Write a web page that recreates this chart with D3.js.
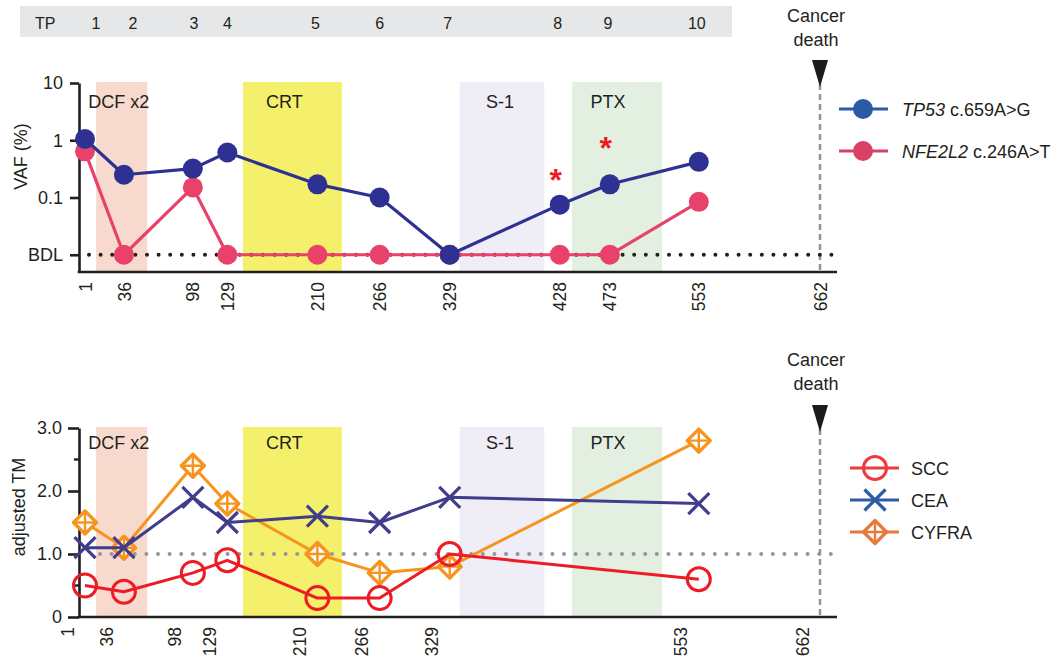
<!DOCTYPE html>
<html>
<head>
<meta charset="utf-8">
<script src="https://cdn.jsdelivr.net/npm/d3@7"></script>
<style>
  body { margin: 0; background: #fff; }
  svg text { font-family: "Liberation Sans", Arial, Helvetica, sans-serif; fill: #231f20; }
</style>
</head>
<body>
<svg id="chart" width="1059" height="658"></svg>
<script>
// ---- Sampling time points (days from start) ----
const days = [1, 36, 98, 129, 210, 266, 329, 428, 473, 553];
const timepointLabels = ["1", "2", "3", "4", "5", "6", "7", "8", "9", "10"];
const deathDay = 662;

// ---- ctDNA variant allele frequency (%), "BDL" = below detection limit ----
const BDL = "BDL";
const tp53Vaf = [1.05, 0.25, 0.32, 0.61, 0.17, 0.10, BDL, 0.075, 0.17, 0.42];
const nfe2l2Vaf = [0.64, BDL, 0.15, BDL, BDL, BDL, BDL, BDL, BDL, 0.084];
const vafTicks = [BDL, 0.1, 1, 10];
const starDays = [428, 473];

// ---- Adjusted tumour markers ----
const tmDays = [1, 36, 98, 129, 210, 266, 329, 553];
const scc = [0.5, 0.4, 0.7, 0.9, 0.3, 0.3, 1.0, 0.6];
const cea = [1.1, 1.1, 1.9, 1.5, 1.6, 1.5, 1.9, 1.8];
const cyfra = [1.5, 1.1, 2.4, 1.8, 1.0, 0.7, 0.8, 2.8];
const tmTicks = [0, 1, 2, 3];
const tmMinorTicks = [0.5, 1.5, 2.5];
const tmReference = 1.0;

// ---- Treatment periods (days) ----
const treatmentNames = ["DCF x2", "CRT", "S-1", "PTX"];
const treatmentStart = [11, 143, 338, 439];
const treatmentEnd = [57, 232, 414, 520];

// ---------------------------------------------------------------
const svg = d3.select("#chart");
const ink = "#231f20";
const treatmentFill = ["#f7dacd", "#f5f06c", "#efedf5", "#e2efe1"];
const treatmentLabelShift = [-3, -8, -2, -9];
const BDL_LEVEL = 0.01;
const vafValue = v => (v === BDL ? BDL_LEVEL : v);

const x = d3.scaleLinear().domain([1, deathDay]).range([85, 820]);
const frameLeft = x(1) - 6, frameRight = x(deathDay) + 17;

const panelTop = { y0: 83, y1: 272 };
const panelBot = { y0: 427, y1: 617 };
const yVaf = d3.scaleLog().domain([0.005, 10]).range([panelTop.y1, panelTop.y0]);
const yTm = d3.scaleLinear().domain([0, 3]).range([panelBot.y1, panelBot.y0 + 1]);

// ---- Time point header band ----
svg.append("rect").attr("x", 20).attr("y", 6).attr("width", 712).attr("height", 31).attr("fill", "#e6e7e8");
svg.append("text").attr("x", 35).attr("y", 29).attr("font-size", 16).text("TP");
const tpNudge = [11, 9, 1, 0, -2, 0, -2, -2, -2, -2];
svg.append("g").selectAll("text").data(days).join("text")
  .attr("x", (d, i) => x(d) + tpNudge[i]).attr("y", 29)
  .attr("text-anchor", "middle").attr("font-size", 16)
  .text((d, i) => timepointLabels[i]);

// ---- Treatment bands for both panels ----
function drawTreatments(y0, y1, labelY) {
  const g = svg.append("g");
  treatmentNames.forEach((name, i) => {
    g.append("rect").attr("x", x(treatmentStart[i])).attr("y", y0)
      .attr("width", x(treatmentEnd[i]) - x(treatmentStart[i])).attr("height", y1 - y0)
      .attr("fill", treatmentFill[i]);
    g.append("text").attr("x", (x(treatmentStart[i]) + x(treatmentEnd[i])) / 2 + treatmentLabelShift[i])
      .attr("y", labelY).attr("text-anchor", "middle").attr("font-size", 18).text(name);
  });
}
drawTreatments(panelTop.y0 - 1, panelTop.y1, 108);
drawTreatments(panelBot.y0, panelBot.y1, 449);

// ---- Cancer death marker ----
function drawDeath(textY, triTop, lineBottom) {
  const cx = x(deathDay);
  svg.append("text").attr("x", cx - 4).attr("y", textY).attr("text-anchor", "middle").attr("font-size", 18).text("Cancer");
  svg.append("text").attr("x", cx - 4).attr("y", textY + 24).attr("text-anchor", "middle").attr("font-size", 18).text("death");
  svg.append("line").attr("x1", cx).attr("x2", cx).attr("y1", triTop + 24).attr("y2", lineBottom)
    .attr("stroke", "#939598").attr("stroke-width", 2.5).attr("stroke-dasharray", "6,4");
  svg.append("path").attr("d", `M${cx - 8},${triTop} L${cx + 8},${triTop} L${cx},${triTop + 27} Z`).attr("fill", "#1c1a1b");
}
drawDeath(22, 60, panelTop.y1);
drawDeath(366, 405, panelBot.y1);

// ---- Top panel: VAF ----
const dotLine = (y, color, x0) => svg.append("line").attr("x1", x0).attr("x2", frameRight - 4)
  .attr("y1", y).attr("y2", y).attr("stroke", color).attr("stroke-width", 4)
  .attr("stroke-linecap", "round").attr("stroke-dasharray", "0,11.6");
dotLine(yVaf(BDL_LEVEL), ink, 89);

const yAxisTop = d3.axisLeft(yVaf).tickValues(vafTicks.map(vafValue))
  .tickFormat(v => (v === BDL_LEVEL ? "BDL" : d3.format("~g")(v)))
  .tickSize(9).tickSizeOuter(0).tickPadding(7);
const gyt = svg.append("g").attr("transform", `translate(${frameLeft},0)`).call(yAxisTop);
gyt.select(".domain").attr("stroke", ink).attr("stroke-width", 2.6);
gyt.selectAll(".tick line").attr("stroke", ink).attr("stroke-width", 2.6);
gyt.selectAll(".tick text").attr("font-size", 18).style("fill", ink);

svg.append("line").attr("x1", frameLeft - 1.3).attr("x2", frameRight).attr("y1", panelTop.y1).attr("y2", panelTop.y1)
  .attr("stroke", ink).attr("stroke-width", 2.6);

function xLabels(tickDays, yPos, shift) {
  const ax = d3.axisBottom(x).tickValues(tickDays).tickSize(0).tickFormat(d3.format("d"));
  const g = svg.append("g").attr("transform", `translate(${shift},${yPos})`).call(ax);
  g.select(".domain").remove();
  g.selectAll(".tick text").attr("transform", "rotate(-90)").attr("x", -10).attr("y", 0)
    .attr("dy", "0.35em").attr("text-anchor", "end").attr("font-size", 17.5).style("fill", ink);
}
xLabels([...days, deathDay], panelTop.y1, 0);

svg.append("text").attr("transform", `translate(27,${(panelTop.y0 + panelTop.y1) / 2 - 21}) rotate(-90)`)
  .attr("text-anchor", "middle").attr("font-size", 18).text("VAF (%)");

const vafSeries = [
  { name: "NFE2L2", values: nfe2l2Vaf, color: "#e8416a" },
  { name: "TP53", values: tp53Vaf, color: "#2e3192" }
];
const lineVaf = d3.line().x(d => x(d.day)).y(d => yVaf(vafValue(d.v)));
vafSeries.forEach(s => {
  const pts = days.map((d, i) => ({ day: d, v: s.values[i] }));
  svg.append("path").datum(pts).attr("d", lineVaf).attr("fill", "none")
    .attr("stroke", s.color).attr("stroke-width", 3.2).attr("stroke-linejoin", "round");
  svg.append("g").selectAll("circle").data(pts).join("circle")
    .attr("cx", d => x(d.day)).attr("cy", d => yVaf(vafValue(d.v))).attr("r", 10).attr("fill", s.color);
});

// significance markers above TP53 points
const starLift = [14, 25];
svg.append("g").selectAll("text").data(starDays).join("text")
  .attr("x", d => x(d) - 4).attr("y", (d, i) => yVaf(tp53Vaf[days.indexOf(d)]) - starLift[i])
  .attr("text-anchor", "middle").attr("font-size", 32).attr("font-weight", "bold")
  .style("fill", "#ed1c24").text("*");

// legend (top)
const legTop = [
  { gene: "TP53", change: " c.659A>G", color: "#2b5aa7", y: 109 },
  { gene: "NFE2L2", change: " c.246A>T", color: "#d94164", y: 151 }
];
legTop.forEach(l => {
  svg.append("line").attr("x1", 839).attr("x2", 888).attr("y1", l.y).attr("y2", l.y)
    .attr("stroke", l.color).attr("stroke-width", 3);
  svg.append("circle").attr("cx", 863).attr("cy", l.y).attr("r", 10).attr("fill", l.color);
  const t = svg.append("text").attr("x", 902).attr("y", l.y + 7).attr("font-size", 18);
  t.append("tspan").attr("font-style", "italic").text(l.gene);
  t.append("tspan").text(l.change);
});

// ---- Bottom panel: adjusted tumour markers ----
dotLine(yTm(tmReference), "#939598", 100);

const yAxisBot = d3.axisLeft(yTm).tickValues(tmTicks)
  .tickFormat(v => (v === 0 ? "0" : d3.format(".1f")(v)))
  .tickSize(11).tickSizeOuter(0).tickPadding(6);
const gyb = svg.append("g").attr("transform", `translate(${frameLeft},0)`).call(yAxisBot);
gyb.select(".domain").attr("stroke", ink).attr("stroke-width", 2.6);
gyb.selectAll(".tick line").attr("stroke", ink).attr("stroke-width", 2.6);
gyb.selectAll(".tick text").attr("font-size", 18).style("fill", ink);
svg.append("g").selectAll("line").data(tmMinorTicks).join("line")
  .attr("x1", frameLeft - 5).attr("x2", frameLeft).attr("y1", d => yTm(d)).attr("y2", d => yTm(d))
  .attr("stroke", ink).attr("stroke-width", 2.4);

svg.append("line").attr("x1", frameLeft - 1.3).attr("x2", frameRight).attr("y1", panelBot.y1).attr("y2", panelBot.y1)
  .attr("stroke", ink).attr("stroke-width", 2.6);

xLabels([...tmDays, deathDay], panelBot.y1, -18);

svg.append("text").attr("transform", `translate(25,${(panelBot.y0 + panelBot.y1) / 2 - 15}) rotate(-90)`)
  .attr("text-anchor", "middle").attr("font-size", 18).text("adjusted TM");

function marker(g, kind, color, cx, cy) {
  if (kind === "circle") {
    g.append("circle").attr("cx", cx).attr("cy", cy).attr("r", 11.5)
      .attr("fill", "none").attr("stroke", color).attr("stroke-width", 3);
  } else if (kind === "cross") {
    const s = 10.5;
    g.append("path").attr("d", `M${cx - s},${cy - s} L${cx + s},${cy + s} M${cx - s},${cy + s} L${cx + s},${cy - s}`)
      .attr("stroke", color).attr("stroke-width", 3.2).attr("fill", "none");
  } else {
    const s = 11.5;
    g.append("path").attr("d", `M${cx},${cy - s} L${cx + s},${cy} L${cx},${cy + s} L${cx - s},${cy} Z`)
      .attr("fill", "#fff").attr("stroke", color).attr("stroke-width", 3.4).attr("stroke-linejoin", "round");
    g.append("path").attr("d", `M${cx},${cy - s} L${cx},${cy + s} M${cx - s},${cy} L${cx + s},${cy}`)
      .attr("stroke", color).attr("stroke-width", 2.4);
  }
}

const tmSeries = [
  { name: "CYFRA", values: cyfra, color: "#f7941d", kind: "diamond" },
  { name: "CEA", values: cea, color: "#3f3d8c", kind: "cross" },
  { name: "SCC", values: scc, color: "#ed1c24", kind: "circle" }
];
const lineTm = d3.line().x(d => x(d.day)).y(d => yTm(d.v));
tmSeries.forEach(s => {
  const pts = tmDays.map((d, i) => ({ day: d, v: s.values[i] }));
  svg.append("path").datum(pts).attr("d", lineTm).attr("fill", "none")
    .attr("stroke", s.color).attr("stroke-width", 3).attr("stroke-linejoin", "round");
  const g = svg.append("g");
  pts.forEach(p => marker(g, s.kind, s.color, x(p.day), yTm(p.v)));
});

// legend (bottom)
const legBot = [
  { name: "SCC", color: "#ee3a3a", kind: "circle", y: 468 },
  { name: "CEA", color: "#2d5ba8", kind: "cross", y: 500 },
  { name: "CYFRA", color: "#e8793c", kind: "diamond", y: 532 }
];
legBot.forEach(l => {
  const g = svg.append("g");
  g.append("line").attr("x1", 850).attr("x2", 899).attr("y1", l.y).attr("y2", l.y)
    .attr("stroke", l.color).attr("stroke-width", 3);
  marker(g, l.kind, l.color, 875, l.y);
  g.append("text").attr("x", 911).attr("y", l.y + 7).attr("font-size", 18).text(l.name);
});
</script>
</body>
</html>
